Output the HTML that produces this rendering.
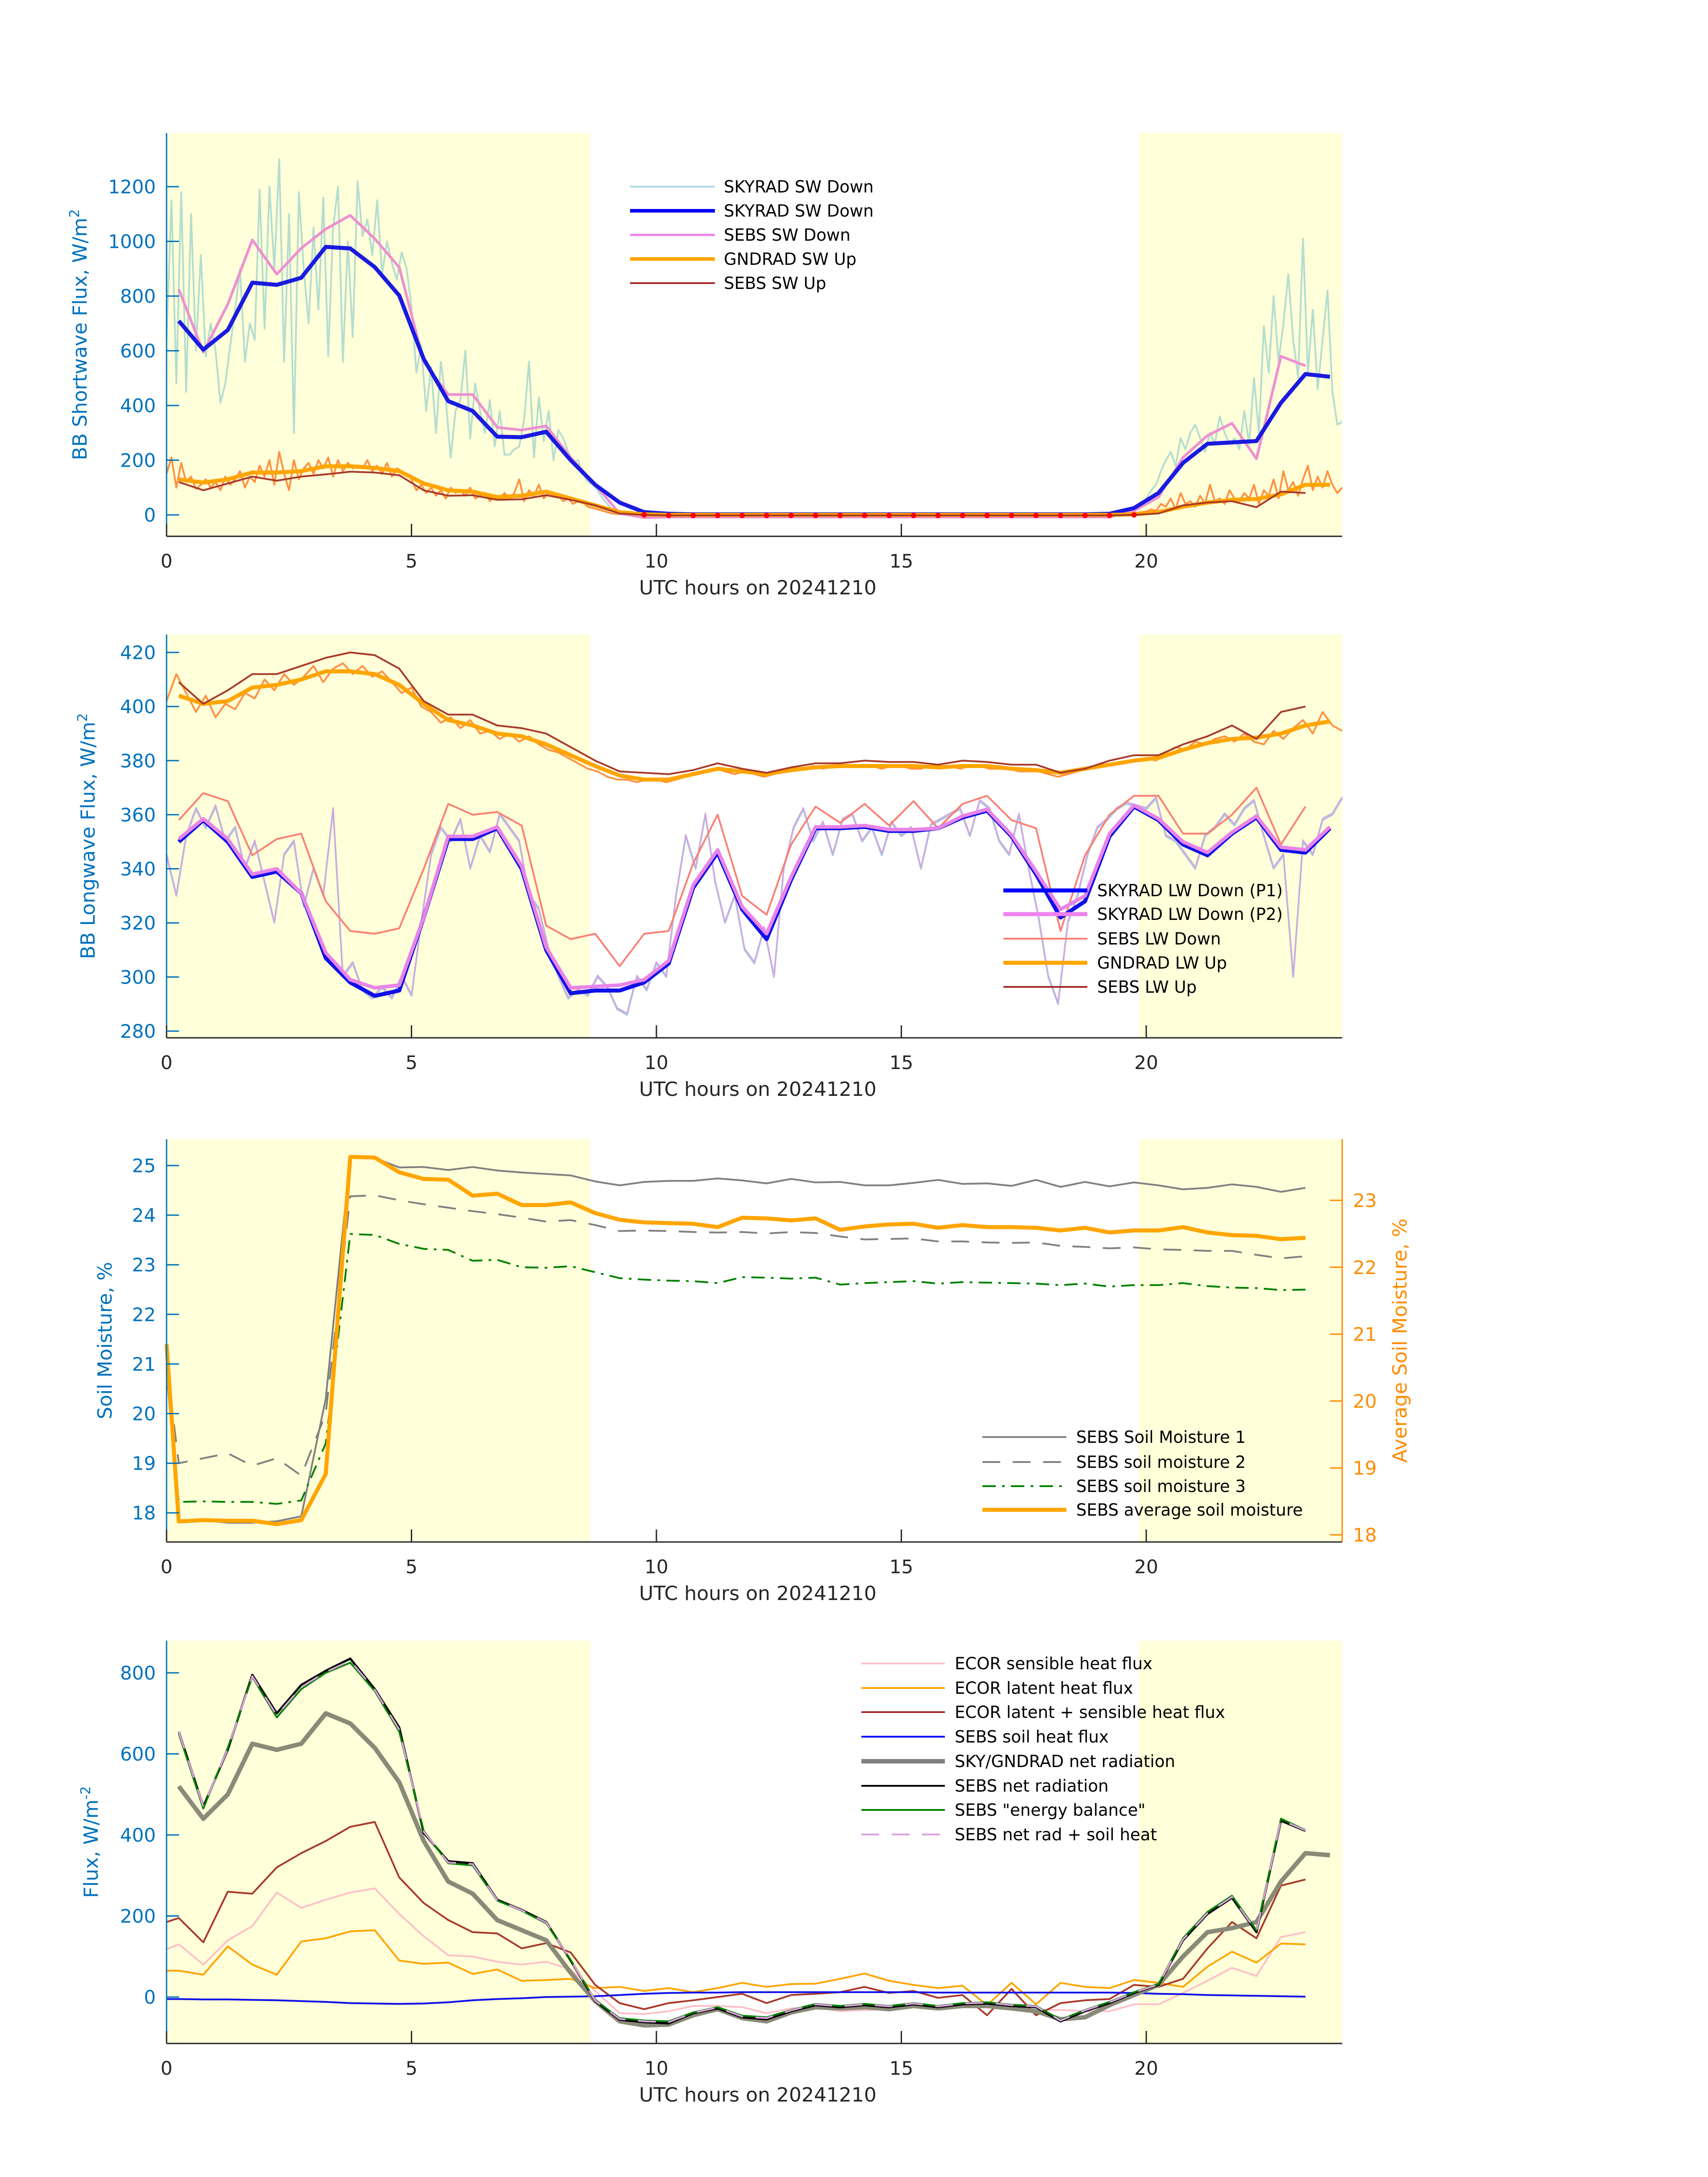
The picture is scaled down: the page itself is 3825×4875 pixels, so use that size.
<!DOCTYPE html>
<html><head><meta charset="utf-8"><style>
html,body{margin:0;padding:0;background:#fff;}
svg{display:block;}
text{font-family:"DejaVu Sans","Liberation Sans",sans-serif;}
</style></head><body>
<svg id="fig" xmlns="http://www.w3.org/2000/svg" width="3825" height="4875" viewBox="0 0 3825 4875"></svg>
<script>
// ---------- data ----------
// Panel 1: shortwave (half-hour means start at 0.25 h)
const swSkyradDown=[709,604,676,849,841,867,980,974,906,802,570,416,380,286,284,304,200,110,45,10,4,2,2,2,2,2,2,2,2,2,2,2,2,2,2,2,2,2,4,25,80,190,260,265,270,410,515,505];
const swSebsDown=[825,595,770,1005,880,975,1045,1095,1010,905,560,440,440,320,310,325,210,110,5,-10,-8,-8,-8,-8,-8,-8,-8,-8,-8,-8,-8,-8,-8,-8,-8,-8,-8,-8,-8,15,65,210,290,335,205,580,545];
const swGndradUp=[130,118,130,155,155,160,178,178,172,160,115,90,85,65,70,85,60,35,10,2,0,0,0,0,0,0,0,0,0,0,0,0,0,0,0,0,0,0,0,2,10,30,45,55,58,75,110,110];
const swSebsUp=[120,90,115,140,125,140,148,158,155,145,90,70,72,55,57,72,55,35,5,0,-2,-2,-2,-2,-2,-2,-2,-2,-2,-2,-2,-2,-2,-2,-2,-2,-2,-2,-2,0,5,35,45,50,28,85,80];
// 1-min-like traces sampled every 0.1 h: morning segment starts 0 h, evening segment starts 19.5 h
const swRawDownA=[650,1150,480,1180,450,1100,600,950,580,700,600,410,480,620,750,900,560,700,640,1190,680,1200,900,1300,560,1100,300,1180,900,700,1050,750,1160,580,1050,1200,560,1000,650,1220,1020,1080,950,1150,880,1000,920,860,960,900,760,520,620,380,540,300,560,420,210,380,420,600,280,480,380,300,420,250,380,220,220,240,250,350,560,210,430,270,380,200,310,280,230,190,200,150,120,110,90,60,40,20,10,5,2,0];
const swRawDownB=[5,15,20,30,40,60,90,110,160,200,230,180,280,240,300,330,280,230,300,260,360,300,260,280,240,380,260,500,300,690,520,800,560,700,880,640,500,1010,520,750,460,640,820,450,330,340];
const swRawUpA=[150,210,100,190,120,140,95,110,130,100,120,90,140,110,130,160,100,140,120,180,140,200,110,230,150,90,200,130,170,190,150,200,170,210,140,200,160,190,170,180,170,200,160,180,150,190,140,170,160,150,130,90,110,80,100,70,90,60,100,80,90,70,100,60,70,80,50,70,60,80,60,80,130,50,90,70,110,60,80,70,70,50,60,40,50,45,30,25,20,15,10,5,3,2,0,0];
const swRawUpB=[2,4,6,8,10,12,20,15,40,30,60,20,80,40,50,30,70,40,110,50,60,40,90,60,50,80,60,110,40,90,70,130,60,160,90,120,70,130,180,90,140,100,160,110,80,100];
const swNightStart=9.5, swNightEnd=19.5;

// Panel 2: longwave
const lwSkyDownP1=[350,358,350,337,339,331,307,298,293,295,322,351,351,355,340,310,294,295,295,298,305,333,346,325,314,336,355,355,355.5,354,354,355,359,361.5,352,338,322,328,352,363,358,349,345,353,359,347,346,355];
const lwSkyDownP2=[351,358.5,351,338,340,331,309,299,296,297,322,352,352,355.5,341,311,296,296.5,297,299,306,334,347,326,316,337,355.5,355.5,356,354.5,354.5,355,359.5,362,352.5,339,325,330,353,363.5,358.5,350,346,353.5,359.5,348,347,355.5];
const lwSebsDown=[358,368,365,345,351,353,328,317,316,318,340,364,360,361,356,319,314,316,304,316,317,342,360,330,323,349,363,357,364,356,365,355,364,367,358,355,317,345,360,367,367,353,353,360,370,349,363];
const lwGndradUp=[404,401,402,407,408,410,413,413,412,408,401,395,393,390,389,386,382,378,374.5,373,373,375,377,376,375,376.5,377.5,378,378,378,378,377.5,378,378,377,376.5,375.5,377,378.5,380,381,384,386.5,388,388.5,390,393,394.5];
const lwSebsUp=[409,401,406,412,412,415,418,420,419,414,402,397,397,393,392,390,385,380,376,375.5,375,376.5,379,377,375.5,377.5,379,379,380,379.5,379.5,378.5,380,379.5,378.5,378.5,375.5,377,380,382,382,386,389,393,388,398,400];
// raw traces sampled every 0.2 h from 0 h
const lwRawUp=[402,412,405,398,404,396,401,399,405,403,410,406,412,408,411,415,409,414,416,412,415,411,413,409,405,407,400,398,394,396,392,395,390,391,388,390,387,389,386,384,383,381,379,377,376,374,373,373,372,373,373,372,373,374,375,376,377,376,375,376,375,374,375,376,377,377,378,377,378,378,378,378,378,377,378,378,377,377,378,377,378,377,378,378,377,377,377,376,376,376,375,374,375,376,377,378,378,379,380,380,381,380,383,385,384,387,386,388,389,387,390,387,386,391,388,392,395,390,398,393,391];
const lwRawDown=[345,330,352,362,355,363,350,355,340,350,335,320,345,350,326,340,330,362,300,305,295,292,296,292,300,293,320,345,355,350,358,340,352,346,360,355,350,330,325,310,300,292,295,293,300,296,288,286,300,295,305,300,330,352,340,360,335,320,330,310,305,318,300,340,355,362,350,357,345,358,360,350,355,345,357,352,355,340,356,358,360,362,352,365,362,350,345,360,340,322,300,290,320,330,345,355,358,362,364,363,362,366,352,350,345,340,352,355,360,356,362,365,352,340,345,300,350,345,358,360,366];

// Panel 3: soil moisture (first value at 0 h, then half-hours from 0.25 h)
const soilM1=[20.9,17.85,17.85,17.8,17.8,17.83,17.93,20.3,25.17,25.15,24.96,24.97,24.91,24.97,24.9,24.86,24.83,24.8,24.68,24.6,24.67,24.69,24.69,24.74,24.7,24.64,24.73,24.66,24.67,24.6,24.6,24.65,24.71,24.63,24.64,24.59,24.71,24.57,24.67,24.58,24.66,24.6,24.52,24.55,24.62,24.57,24.47,24.55];
const soilM2=[21.0,19.0,19.1,19.2,18.95,19.1,18.75,20.0,24.38,24.4,24.3,24.22,24.15,24.08,24.02,23.95,23.87,23.9,23.8,23.68,23.69,23.68,23.66,23.65,23.66,23.63,23.66,23.64,23.57,23.51,23.52,23.53,23.47,23.47,23.45,23.44,23.45,23.38,23.36,23.33,23.35,23.31,23.3,23.28,23.28,23.2,23.13,23.17];
const soilM3=[21.0,18.22,18.23,18.22,18.22,18.18,18.25,19.4,23.62,23.6,23.42,23.32,23.3,23.08,23.1,22.95,22.94,22.97,22.85,22.73,22.7,22.68,22.67,22.63,22.75,22.74,22.72,22.74,22.6,22.63,22.65,22.67,22.62,22.65,22.64,22.63,22.62,22.59,22.62,22.56,22.59,22.59,22.63,22.57,22.54,22.53,22.49,22.5];
const soilAvg=[20.85,18.2,18.22,18.21,18.21,18.16,18.22,18.91,23.65,23.64,23.42,23.32,23.31,23.07,23.1,22.93,22.93,22.97,22.81,22.71,22.67,22.66,22.65,22.6,22.74,22.73,22.7,22.73,22.56,22.61,22.64,22.65,22.59,22.63,22.6,22.6,22.59,22.55,22.59,22.52,22.55,22.55,22.6,22.52,22.48,22.47,22.42,22.44];

// Panel 4: energy fluxes
const fxSebsNet=[655,470,610,795,700,770,805,835,760,665,405,335,330,240,215,185,90,-10,-56,-62,-65,-40,-28,-50,-55,-35,-20,-25,-20,-25,-18,-25,-18,-16,-22,-25,-60,-35,-15,10,30,140,205,245,160,435,410];
const fxEnergyBal=[650,465,615,790,690,760,800,825,755,655,410,330,325,238,213,182,92,-8,-52,-58,-60,-38,-25,-46,-50,-32,-17,-22,-17,-22,-15,-22,-15,-13,-19,-22,-56,-32,-12,12,32,145,210,250,165,440,412];
const fxNetPlusSoil=[655,470,612,792,695,765,802,830,758,660,408,332,328,239,214,184,91,-9,-54,-60,-62,-39,-26,-48,-52,-33,-18,-23,-18,-23,-16,-23,-16,-14,-20,-23,-58,-33,-13,11,31,142,207,247,162,437,411];
const fxSkyNet=[520,440,500,625,610,625,700,675,615,530,385,285,255,190,165,140,60,-10,-60,-70,-68,-45,-30,-52,-60,-38,-25,-28,-25,-30,-22,-28,-22,-22,-28,-35,-55,-50,-20,5,30,100,160,170,185,285,355,350];
const fxEcorSum=[185,195,135,260,255,320,355,385,420,432,295,232,190,160,157,120,133,110,30,-15,-30,-15,-8,0,8,-15,5,8,12,25,10,15,-2,5,-45,20,-45,-15,-8,-5,30,25,45,120,185,145,275,290];
const fxEcorSens=[118,130,80,140,175,258,220,240,258,268,205,150,103,100,87,80,87,68,15,-40,-42,-35,-22,-22,-25,-40,-28,-25,-35,-32,-30,-20,-28,-25,-20,-25,-32,-32,-35,-35,-18,-18,10,40,72,52,148,160];
const fxEcorLat=[65,65,55,125,80,55,137,145,162,165,90,82,85,57,68,40,42,45,22,25,15,22,12,22,35,25,32,33,45,58,40,30,22,28,-20,35,-18,35,25,22,42,35,25,75,112,85,132,130];
const fxSoilHeat=[-5,-5,-6,-6,-7,-8,-10,-12,-15,-16,-17,-16,-13,-8,-5,-3,0,1,2,5,8,10,11,11,12,12,12,12,12,12,12,12,11,11,11,11,11,11,11,11,10,8,7,5,4,3,2,1];

// ---------- drawing ----------
const NS="http://www.w3.org/2000/svg";
const svg=document.getElementById('fig');
const X0=373, XK=109.7;
function xs(h){return X0+h*XK;}
function mk(tag,attrs,parent){const e=document.createElementNS(NS,tag);for(const k in attrs)e.setAttribute(k,attrs[k]);(parent||svg).appendChild(e);return e;}
function halfHours(n){const a=[];for(let i=0;i<n;i++)a.push(0.25+0.5*i);return a;}
function zeroThenHalf(n){const a=[0];for(let i=1;i<n;i++)a.push(0.25+0.5*(i-1));return a;}
function stepHours(n,start,step){const a=[];for(let i=0;i<n;i++)a.push(start+step*i);return a;}
function pathD(ts,vs,yf){let d='';for(let i=0;i<vs.length;i++){d+=(i?'L':'M')+xs(ts[i]).toFixed(1)+' '+yf(vs[i]).toFixed(1);}return d;}
function series(g,ts,vs,yf,stroke,w,name,dash){
  const p=mk('path',{d:pathD(ts,vs,yf),fill:'none',stroke:stroke,'stroke-width':w,'stroke-linejoin':'round'},g);
  if(dash)p.setAttribute('stroke-dasharray',dash);
  
  
  return p;
}
function panel(name,top,bot,yf,ticks,ylabelHtml,ylabX){
  const g=mk('g',{},svg);
  
  
  const s1=mk('rect',{x:xs(0),y:top,width:xs(8.65)-xs(0),height:bot-top,fill:'#ffffd9'},g);
  
  
  const s2=mk('rect',{x:xs(19.85),y:top,width:xs(24)-xs(19.85),height:bot-top,fill:'#ffffd9'},g);
  
  
  const clip=mk('g',{},g);
  
  
  const ax=mk('g',{},g);
  
  
  mk('line',{x1:xs(0),y1:bot,x2:xs(24),y2:bot,stroke:'#262626','stroke-width':3},ax);
  mk('line',{x1:xs(0),y1:top,x2:xs(0),y2:bot,stroke:'#0072bd','stroke-width':3},ax);
  [0,5,10,15,20].forEach(h=>{
    mk('line',{x1:xs(h),y1:bot,x2:xs(h),y2:bot-28,stroke:'#262626','stroke-width':3},ax);
    const t=mk('text',{x:xs(h),y:bot+70,'font-size':42,'text-anchor':'middle',fill:'#262626'},ax);
    t.textContent=h;
    
    
  });
  ticks.forEach(v=>{
    const y=yf(v);
    mk('line',{x1:xs(0),y1:y,x2:xs(0)+28,y2:y,stroke:'#0072bd','stroke-width':3},ax);
    const t=mk('text',{x:xs(0)-24,y:y+15,'font-size':42,'text-anchor':'end',fill:'#0072bd'},ax);
    t.textContent=v;
    
    
  });
  const xl=mk('text',{x:1697,y:bot+130,'font-size':44,'text-anchor':'middle',fill:'#262626'},ax);
  xl.textContent='UTC hours on 20241210';
  
  
  const cy=(top+bot)/2;
  const yl=mk('text',{x:ylabX,y:cy,'font-size':44,'text-anchor':'middle',fill:'#0072bd',transform:'rotate(-90 '+ylabX+' '+cy+')'},ax);
  yl.innerHTML=ylabelHtml;
  
  
  return clip;
}
function legend(items,x1,x2,tx,ys){
  const g=mk('g',{},svg);
  
  
  items.forEach((it,i)=>{
    const e=mk('g',{},g);
    
    
    const l=mk('line',{x1:x1,y1:ys[i],x2:x2,y2:ys[i],stroke:it[1],'stroke-width':it[2]},e);
    if(it[3])l.setAttribute('stroke-dasharray',it[3]);
    const t=mk('text',{x:tx,y:ys[i]+13,'font-size':37,fill:'#000'},e);
    t.textContent=it[0];
  });
}

// Panel 1
const y1=v=>1153-v*0.6125;
const p1=panel('shortwave-panel',298,1201,y1,[0,200,400,600,800,1000,1200],'BB Shortwave Flux, W/m<tspan baseline-shift="super" font-size="30">2</tspan>',194);
series(p1,stepHours(swRawDownA.length,0,0.1),swRawDownA,y1,'#b5ddd0',4,'skyrad-sw-down-raw-morning');
series(p1,stepHours(swRawDownB.length,19.5,0.1),swRawDownB,y1,'#b5ddd0',4,'skyrad-sw-down-raw-evening');
series(p1,[swNightStart,swNightEnd],[0,0],y1,'#b5ddd0',4,'skyrad-sw-down-raw-night');
series(p1,stepHours(swRawUpA.length,0,0.1),swRawUpA,y1,'#ff9040',4,'gndrad-sw-up-raw-morning');
series(p1,stepHours(swRawUpB.length,19.5,0.1),swRawUpB,y1,'#ff9040',4,'gndrad-sw-up-raw-evening');
series(p1,halfHours(swSebsDown.length),swSebsDown,y1,'#ee90d0',6,'sebs-sw-down');
series(p1,halfHours(swSkyradDown.length),swSkyradDown,y1,'#1a1ae0',9,'skyrad-sw-down');
series(p1,halfHours(swGndradUp.length),swGndradUp,y1,'#ffa500',9,'gndrad-sw-up');
series(p1,halfHours(swSebsUp.length),swSebsUp,y1,'#a83a2a',4,'sebs-sw-up');
halfHours(swSebsUp.length).forEach((h,i)=>{
  if(swSebsUp[i]<=0){
    const c=mk('circle',{cx:xs(h),cy:y1(swSebsUp[i]),r:6,fill:'#ff0000'},p1);
    
    
  }
});
legend([['SKYRAD SW Down','#add8e6',4],['SKYRAD SW Down','#0000ff',8],['SEBS SW Down','#ee82ee',5],['GNDRAD SW Up','#ffa500',8],['SEBS SW Up','#a52a2a',4]],1411,1601,1621,[418,472,526,580,634]);

// Panel 2
const y2=v=>1461+(420-v)*6.057;
const p2=panel('longwave-panel',1421,2324,y2,[280,300,320,340,360,380,400,420],'BB Longwave Flux, W/m<tspan baseline-shift="super" font-size="30">2</tspan>',212);
series(p2,stepHours(lwRawDown.length,0,0.2),lwRawDown,y2,'#b0c8e0',4,'skyrad-lw-down-raw');
series(p2,stepHours(lwRawDown.length,0,0.2),lwRawDown.map(v=>v+0.6),y2,'#d0a8e0',3,'skyrad-lw-down-raw-p2');
series(p2,stepHours(lwRawUp.length,0,0.2),lwRawUp,y2,'#ff9040',4,'gndrad-lw-up-raw');
series(p2,halfHours(lwSebsDown.length),lwSebsDown,y2,'#fa8072',4,'sebs-lw-down');
series(p2,halfHours(lwSkyDownP1.length),lwSkyDownP1,y2,'#1010e8',9,'skyrad-lw-down-p1');
series(p2,halfHours(lwSkyDownP2.length),lwSkyDownP2,y2,'#e884e8',8,'skyrad-lw-down-p2');
series(p2,halfHours(lwGndradUp.length),lwGndradUp,y2,'#ffa500',9,'gndrad-lw-up');
series(p2,halfHours(lwSebsUp.length),lwSebsUp,y2,'#a83a2a',4,'sebs-lw-up');
legend([['SKYRAD LW Down (P1)','#0000ff',9],['SKYRAD LW Down (P2)','#ee82ee',9],['SEBS LW Down','#fa8072',4],['GNDRAD LW Up','#ffa500',9],['SEBS LW Up','#a52a2a',4]],2247,2435,2457,[1994,2047,2102,2156,2210]);

// Panel 3
const y3=v=>2610+(25-v)*111.1;
const y3r=v=>2688+(23-v)*149.8;
const p3=panel('soil-moisture-panel',2551,3453,y3,[18,19,20,21,22,23,24,25],'Soil Moisture, %',250);
const rax=mk('g',{},svg);


mk('line',{x1:xs(24),y1:2551,x2:xs(24),y2:3453,stroke:'#ff8c00','stroke-width':3},rax);
[18,19,20,21,22,23].forEach(v=>{
  mk('line',{x1:xs(24),y1:y3r(v),x2:xs(24)-28,y2:y3r(v),stroke:'#ff8c00','stroke-width':3},rax);
  const t=mk('text',{x:xs(24)+24,y:y3r(v)+15,'font-size':42,fill:'#ff8c00'},rax);
  t.textContent=v;
  
  
});
const ryl=mk('text',{x:3150,y:3002,'font-size':44,'text-anchor':'middle',fill:'#ff8c00',transform:'rotate(-90 3150 3002)'},rax);
ryl.textContent='Average Soil Moisture, %';


series(p3,zeroThenHalf(soilM1.length),soilM1,y3,'#808080',4,'sebs-soil-moisture-1');
series(p3,zeroThenHalf(soilM2.length),soilM2,y3,'#808080',4,'sebs-soil-moisture-2','40 28');
series(p3,zeroThenHalf(soilM3.length),soilM3,y3,'#008000',4,'sebs-soil-moisture-3','30 14 6 14');
series(p3,zeroThenHalf(soilAvg.length),soilAvg,y3r,'#ffa500',9,'sebs-average-soil-moisture');
legend([['SEBS Soil Moisture 1','#808080',4],['SEBS soil moisture 2','#808080',4,'40 28'],['SEBS soil moisture 3','#008000',4,'30 14 6 14'],['SEBS average soil moisture','#ffa500',9]],2200,2388,2410,[3218,3274,3328,3381]);

// Panel 4
const y4=v=>4472-v*0.9075;
const p4=panel('energy-flux-panel',3674,4576,y4,[0,200,400,600,800],'Flux, W/m<tspan baseline-shift="super" font-size="30">-2</tspan>',219);
series(p4,zeroThenHalf(fxEcorSens.length),fxEcorSens,y4,'#ffc0c8',4,'ecor-sensible-heat-flux');
series(p4,zeroThenHalf(fxEcorLat.length),fxEcorLat,y4,'#ffa500',4,'ecor-latent-heat-flux');
series(p4,zeroThenHalf(fxEcorSum.length),fxEcorSum,y4,'#a83a2a',4,'ecor-latent-plus-sensible');
series(p4,zeroThenHalf(fxSoilHeat.length),fxSoilHeat,y4,'#1010e8',4,'sebs-soil-heat-flux');
series(p4,halfHours(fxSkyNet.length),fxSkyNet,y4,'#8a8a78',10,'sky-gndrad-net-radiation');
series(p4,halfHours(fxSebsNet.length),fxSebsNet,y4,'#000000',5,'sebs-net-radiation');
series(p4,halfHours(fxEnergyBal.length),fxEnergyBal,y4,'#008000',4,'sebs-energy-balance');
series(p4,halfHours(fxNetPlusSoil.length),fxNetPlusSoil,y4,'#dda0dd',4,'sebs-net-rad-plus-soil-heat','40 28');
legend([['ECOR sensible heat flux','#ffc0cb',4],['ECOR latent heat flux','#ffa500',4],['ECOR latent + sensible heat flux','#a52a2a',4],['SEBS soil heat flux','#0000ff',4],['SKY/GNDRAD net radiation','#808080',10],['SEBS net radiation','#000000',4],['SEBS "energy balance"','#008000',4],['SEBS net rad + soil heat','#dda0dd',4,'40 28']],1929,2116,2138,[3725,3780,3834,3889,3944,3999,4053,4108]);
</script>
</body></html>
